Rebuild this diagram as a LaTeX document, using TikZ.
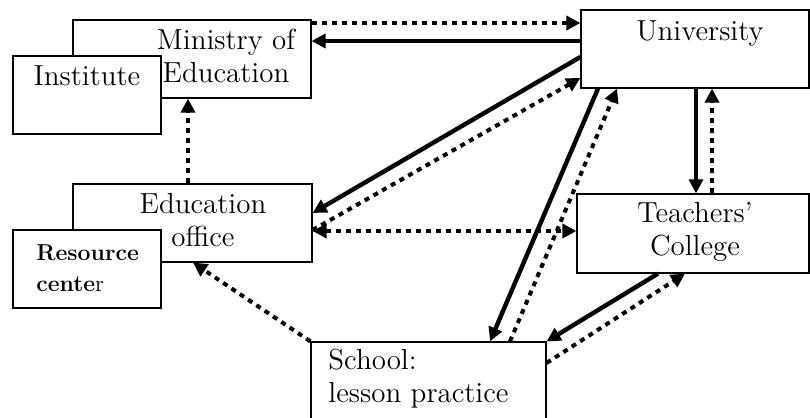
\documentclass[tikz,border=0pt]{standalone}
\usepackage{tikz}
\usetikzlibrary{arrows.meta}
\tikzset{
    >={Triangle[length=7pt,width=7pt]},
    box/.style={shape=rectangle, draw=black, fill=white, line width=0.6pt, inner sep=0pt, minimum height=39pt},
    txt/.style={font=\fontsize{14.5}{16.5}\selectfont, inner sep=0pt, align=center},
    solidarr/.style={line width=2.2pt, ->},
    dotarr/.style={line width=2pt, dash pattern=on 2.5pt off 2.5pt, ->},
    dotboth/.style={line width=2pt, dash pattern=on 2.5pt off 2.5pt, <->}
}
\begin{document}
\begin{tikzpicture}[x=0.5pt, y=-0.5pt]
    \useasboundingbox (0,0) rectangle (810,418);

    \node[box, minimum width=119pt] (ministry) at (192,59) {};
    \node[box, minimum width=74pt] (institute) at (87,95) {};
    \node[box, minimum width=114pt] (univ) at (695,49) {};
    \node[box, minimum width=119.5pt] (edu) at (192.5,223) {};
    \node[box, minimum width=74pt] (resource) at (87,269) {};
    \node[box, minimum width=116pt, minimum height=39.5pt] (college) at (693,233.5) {};
    \node[box, minimum width=117.5pt] (school) at (428.5,381) {};

    % base = baseline of the last line
    \node[txt, anchor=base] (ministrytxt) at (226,82) {Ministry of\\Education};
    \node[txt, anchor=base] (institutetxt) at (87,85) {Institute};
    \node[txt, anchor=base] (univtxt) at (700,40) {University};
    \node[txt, anchor=base] (edutxt) at (203,246) {Education\\office};
    \node[txt, anchor=base west, align=left, font=\fontsize{11.5}{15.5}\selectfont] (resourcetxt) at (36,291) {\textbf{Resource}\\\textbf{cente}r};
    \node[txt, anchor=base] (collegetxt) at (695,255) {Teachers'\\College};
    \node[txt, anchor=base west, align=left] (schooltxt) at (328,402) {School:\\lesson practice};

    \draw[dotarr] (ministry.east |- 0,23) -- (univ.west |- 0,23);
    \draw[solidarr] (univ.west |- 0,41) -- (ministry.east |- 0,41);
    \draw[solidarr] (univ.west |- 0,57) -- (edu.east |- 0,213);
    \draw[dotarr] (edu.east |- 0,230) -- (univ.west |- 0,78);
    \draw[dotboth] (edu.east |- 0,231) -- (college.west |- 0,231);
    \draw[solidarr] (598,0 |- univ.south) -- (490,0 |- school.north);
    \draw[dotarr] (510,0 |- school.north) -- (617,0 |- univ.south);
    \draw[solidarr] (696,0 |- univ.south) -- (696,0 |- college.north);
    \draw[dotarr] (712,0 |- college.north) -- (712,0 |- univ.south);
    \draw[solidarr] (658,0 |- college.south) -- (school.north east);
    \draw[dotarr] (school.east |- 0,363) -- (685,0 |- college.south);
    \draw[dotarr] (school.north west) -- (193,0 |- edu.south);
    \draw[dotarr] (188,0 |- edu.north) -- (188,0 |- ministry.south);

\end{tikzpicture}
\end{document}
